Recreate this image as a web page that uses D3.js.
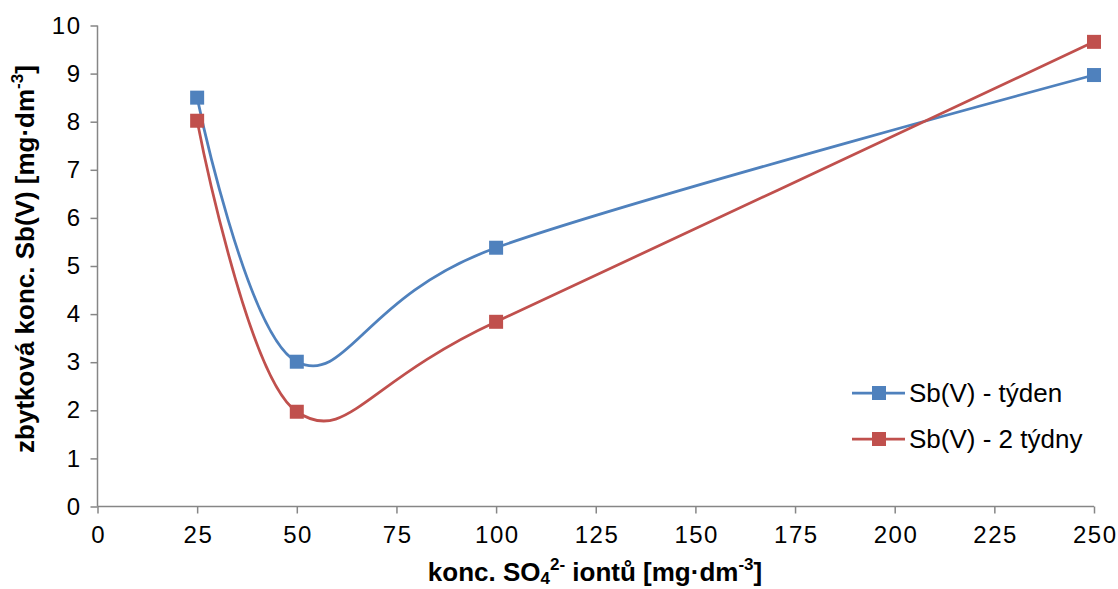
<!DOCTYPE html>
<html>
<head>
<meta charset="utf-8">
<script src="https://d3js.org/d3.v7.min.js"></script>
<style>
  html, body { margin: 0; padding: 0; background: #fff; }
  svg { display: block; font-family: "Liberation Sans", Arial, sans-serif; }
</style>
</head>
<body>
<svg id="chart" width="1118" height="589"></svg>
<script>
// Sulfate concentration (mg·dm-3) on the x axis
const concentrations = [25, 50, 100, 250];
// Residual Sb(V) concentration after one week and after two weeks
const weekOne = [8.50, 3.01, 5.38, 8.97];
const weekTwo = [8.02, 1.97, 3.84, 9.66];
const seriesNames = ["Sb(V) - týden", "Sb(V) - 2 týdny"];
const xTicks = [0, 25, 50, 75, 100, 125, 150, 175, 200, 225, 250];
const yTicks = [0, 1, 2, 3, 4, 5, 6, 7, 8, 9, 10];

const colors = ["#4F81BD", "#C0504D"];
const svg = d3.select("#chart");

const x = d3.scaleLinear().domain([0, 250]).range([97.5, 1094]);
const y = d3.scaleLinear().domain([0, 10]).range([506.5, 25.5]);
const axisColor = "#868686";

// y axis
const yAxis = svg.append("g").attr("transform", `translate(${x(0)},0)`)
  .call(d3.axisLeft(y).tickValues(yTicks).tickSize(7).tickPadding(9).tickFormat(d3.format("d")));
// x axis
const xAxis = svg.append("g").attr("transform", `translate(0,${y(0)})`)
  .call(d3.axisBottom(x).tickValues(xTicks).tickSize(7).tickPadding(12).tickFormat(d3.format("d")));

[yAxis, xAxis].forEach(g => {
  g.select(".domain").attr("stroke", axisColor).attr("stroke-width", 1.5);
  g.selectAll(".tick line").attr("stroke", axisColor).attr("stroke-width", 1.5);
  g.selectAll(".tick text").attr("fill", "#000").style("font-size", "24px")
    .style("letter-spacing", "1.5px")
    .style("font-family", "'Liberation Sans', Arial, sans-serif");
});
xAxis.selectAll(".tick text").attr("dx", "0.75px");
xAxis.select(".domain").attr("d", `M${x(0)},0H${x(250)}`);
yAxis.select(".domain").attr("d", `M0,${y(0)}V${y(10)}`);

// smoothed series lines
const line = d3.line()
  .x((d, i) => x(concentrations[i]))
  .y(d => y(d))
  .curve(d3.curveCardinal.tension(0));

[weekOne, weekTwo].forEach((vals, s) => {
  svg.append("path").datum(vals)
    .attr("d", line)
    .attr("fill", "none")
    .attr("stroke", colors[s])
    .attr("stroke-width", 2.75);
});
[weekOne, weekTwo].forEach((vals, s) => {
  svg.append("g").selectAll("rect").data(vals).join("rect")
    .attr("x", (d, i) => x(concentrations[i]) - 7)
    .attr("y", d => y(d) - 7)
    .attr("width", 14).attr("height", 14)
    .attr("fill", colors[s]);
});

// legend
const legend = svg.append("g");
seriesNames.forEach((name, s) => {
  const ly = 393 + s * 46;
  legend.append("line").attr("x1", 852).attr("x2", 905).attr("y1", ly).attr("y2", ly)
    .attr("stroke", colors[s]).attr("stroke-width", 2.75);
  legend.append("rect").attr("x", 872).attr("y", ly - 7).attr("width", 14).attr("height", 14)
    .attr("fill", colors[s]);
  legend.append("text").attr("x", 909).attr("y", ly + 9).style("font-size", "26px").text(name);
});

// axis titles
const xTitle = svg.append("text")
  .attr("x", 595).attr("y", 581)
  .attr("text-anchor", "middle").style("font-size", "26px").style("font-weight", "bold");
xTitle.append("tspan").text("konc. SO");
xTitle.append("tspan").attr("dy", 3).style("font-size", "17px").text("4");
xTitle.append("tspan").attr("dy", -14).style("font-size", "17px").text("2-");
xTitle.append("tspan").attr("dy", 11).text(" iontů [mg·dm");
xTitle.append("tspan").attr("dy", -11).style("font-size", "17px").text("-3");
xTitle.append("tspan").attr("dy", 11).text("]");

const yTitle = svg.append("text")
  .attr("transform", `translate(34,259) rotate(-90)`)
  .attr("text-anchor", "middle").style("font-size", "26px").style("font-weight", "bold");
yTitle.append("tspan").text("zbytková konc. Sb(V) [mg·dm");
yTitle.append("tspan").attr("dy", -11).style("font-size", "17px").text("-3");
yTitle.append("tspan").attr("dy", 11).text("]");
</script>
</body>
</html>
